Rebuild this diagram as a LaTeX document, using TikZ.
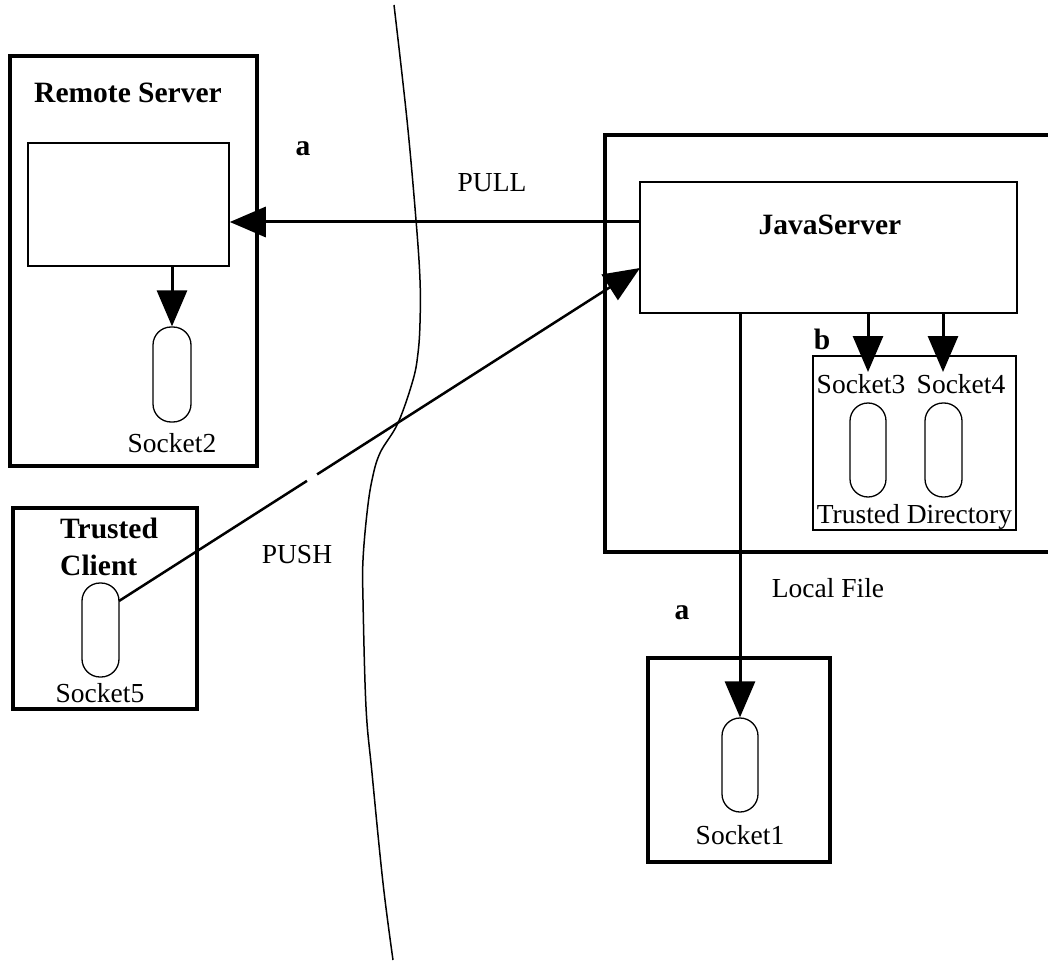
\documentclass[tikz,border=0pt]{standalone}
\usepackage{fontspec}
\setmainfont{Liberation Serif}
\usetikzlibrary{arrows.meta,calc}
\begin{document}
\begin{tikzpicture}[x=1pt,y=-1pt,
  outerbox/.style={draw, line width=3.5pt, inner sep=0pt},
  innerbox/.style={draw, line width=1.5pt, inner sep=0pt},
  capsule/.style={draw, line width=1.3pt, rounded corners=18pt, inner sep=0pt},
  conn/.style={line width=3pt, -{Triangle[length=36pt,width=30pt]}},
  lbl/.style={inner sep=0pt, font=\fontsize{27.5}{30}\selectfont},
  blbl/.style={inner sep=0pt, font=\fontsize{29.5}{37}\selectfont\bfseries},
  curve/.style={line width=1.5pt}
]
\useasboundingbox (0,0) rectangle (1048,965);
\fill[white] (0,0) rectangle (1048,965);

% boundary curve
\draw[curve] plot[smooth, tension=0.6] coordinates {(394,5) (407,120) (416,220) (420,280) (420,323) (418,353) (413,380) (398,423) (380,453) (372,480) (367,513) (363,560) (363,600) (366,707) (372,773) (383,883) (393,960)};

% Remote server
\node[outerbox, minimum width=247pt, minimum height=410pt] (rs) at (133.5,261) {};
\node[blbl] (rstitle) at (128,93) {Remote Server};
\node[innerbox, minimum width=201pt, minimum height=123pt] (rsin) at (128.5,204.5) {};
\node[capsule, minimum width=38pt, minimum height=95pt] (s2) at (172,374.5) {};
\node[lbl] (s2l) at (172,443) {Socket2};

% JavaServer
\node[outerbox, minimum width=455pt, minimum height=417pt] (jsout) at (832.5,343.5) {};
\node[innerbox, minimum width=377pt, minimum height=131pt] (js) at (828.5,247.5) {};
\node[blbl] (jst) at (830,225) {JavaServer};
\node[innerbox, minimum width=203pt, minimum height=174pt] (td) at (914.5,443) {};
\node[blbl] (b) at (822,339) {b};
\node[lbl] (s3l) at (861,384) {Socket3};
\node[lbl] (s4l) at (961,384) {Socket4};
\node[capsule, minimum width=36pt, minimum height=94pt] (s3) at (868,450) {};
\node[capsule, minimum width=37pt, minimum height=94pt] (s4) at (943.5,450) {};
\node[lbl] (tdl) at (914.5,517) {Trusted Directory};

% Socket1 box
\node[outerbox, minimum width=182pt, minimum height=204pt] (s1box) at (739,760) {};
\node[capsule, minimum width=36pt, minimum height=94pt] (s1) at (740,765) {};
\node[lbl] (s1l) at (740,835) {Socket1};
\node[blbl] (a2) at (682,613) {a};
\node[lbl] (lf) at (828,588) {Local File};

% Trusted client
\node[outerbox, minimum width=184pt, minimum height=201pt] (tc) at (105,608.5) {};
\node[blbl, align=left, anchor=west] (tct) at (60,546.5) {Trusted\\Client};
\node[capsule, minimum width=37pt, minimum height=94pt] (s5) at (100.5,630) {};
\node[lbl] (s5l) at (100,693) {Socket5};

% labels
\node[blbl] (a1) at (303,149) {a};
\node[lbl] (pull) at (492,183) {PULL};
\node[lbl] (push) at (297,555) {PUSH};

% connectors
\coordinate (pully) at (0,222);
\coordinate (t3) at (868,372);
\coordinate (t4) at (943,372);
\coordinate (ps) at (119,601);
\coordinate (pe) at (640,268);

\draw[conn] (js.west |- pully) -- (rsin.east |- pully);
\draw[conn] (rsin.south -| s2.north) -- (s2.north);
\draw[conn] (js.south -| t3) -- (t3);
\draw[conn] (js.south -| t4) -- (t4);
\draw[conn] (js.south -| s1.north) -- (s1.north);
\draw[line width=2.5pt, -{Triangle[length=36pt,width=30pt]}] (ps) -- (pe);
\draw[white, line width=6pt] ($(ps)!0.361!(pe)$) -- ($(ps)!0.380!(pe)$);
\end{tikzpicture}
\end{document}
